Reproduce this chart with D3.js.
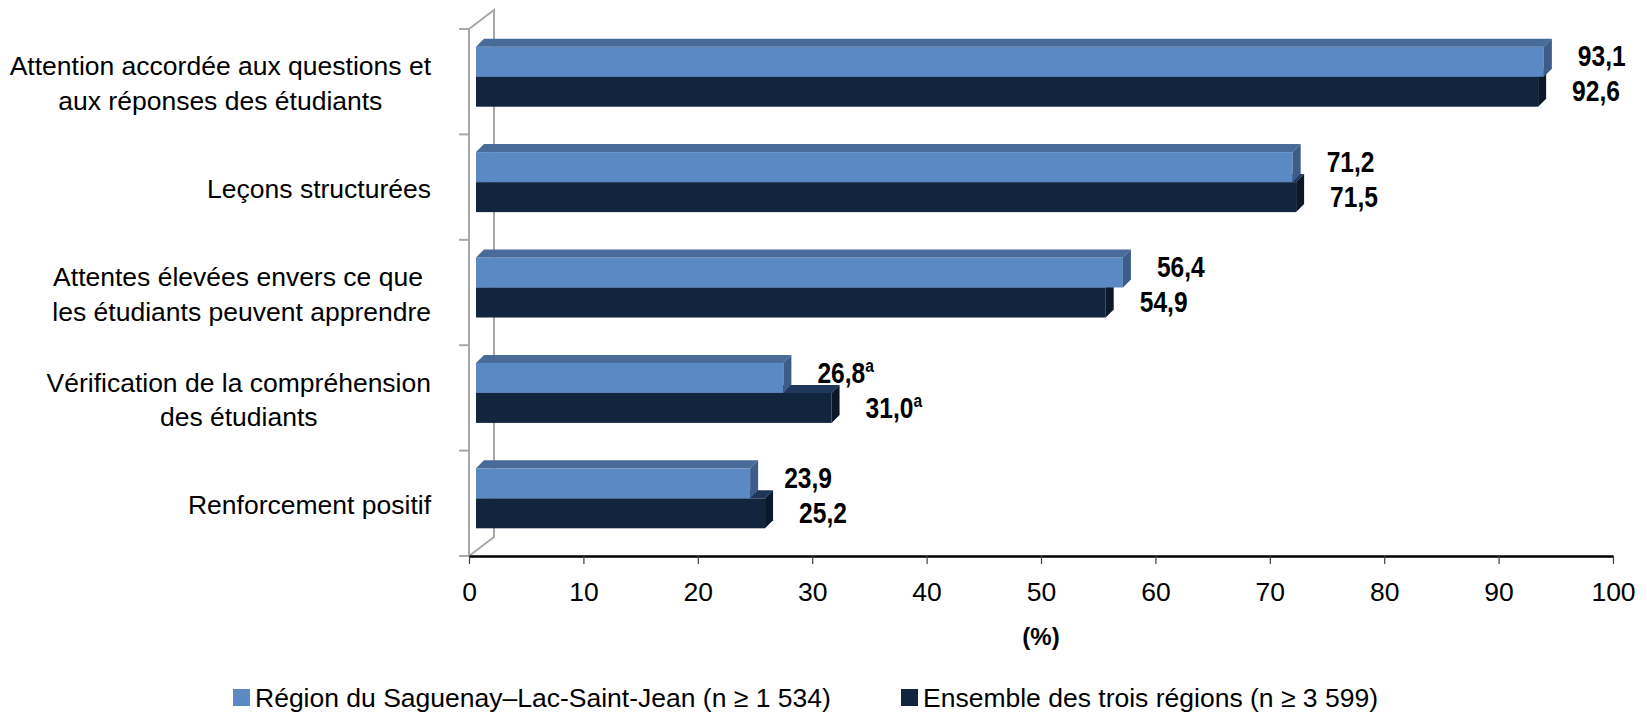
<!DOCTYPE html>
<html>
<head>
<meta charset="utf-8">
<title>Pratiques d'enseignement</title>
<style type="text/css">
    body { margin: 0; background: #fff; }
    svg text { font-family: "Liberation Sans", Arial, sans-serif; fill: #000; }
    .cat { font-size: 26.5px; white-space: pre; }
    .x-axis text { font-size: 26.5px; }
    .x-axis .domain { stroke: #000; stroke-width: 2.5px; }
    .x-axis .tick line { stroke: #404040; stroke-width: 1.2px; }
    .unit { font-size: 24px; font-weight: bold; }
    .val { font-weight: bold; font-size: 30px; }
    .wall { stroke: #a8a8a8; stroke-width: 2px; fill: none; }
    .legend text { font-size: 26.5px; }
</style>
</head>
<body>
<div id="chart"></div>
<script src="https://cdn.jsdelivr.net/npm/d3@7"></script>
<script>

    // categories (one label line per entry)
    var categories = [
        "Attention accordée aux questions et aux réponses des étudiants",
        "Leçons structurées",
        "Attentes élevées envers ce que les étudiants peuvent apprendre",
        "Vérification de la compréhension des étudiants",
        "Renforcement positif"
    ];
    var categoryLines = [
        ["Attention accordée aux questions et", "aux réponses des étudiants"],
        ["Leçons structurées"],
        ["Attentes élevées envers ce que ", "les étudiants peuvent apprendre"],
        ["Vérification de la compréhension", "des étudiants"],
        ["Renforcement positif"]
    ];

    // series values (%)
    var saguenay = [93.1, 71.2, 56.4, 26.8, 23.9];
    var ensemble = [92.6, 71.5, 54.9, 31.0, 25.2];
    var saguenayNotes = ["", "", "", "a", ""];
    var ensembleNotes = ["", "", "", "a", ""];

    var seriesNames = ["Région du Saguenay–Lac-Saint-Jean (n ≥ 1 534)", "Ensemble des trois régions (n ≥ 3 599)"];
    var xTicks = [0, 10, 20, 30, 40, 50, 60, 70, 80, 90, 100];
    var unitLabel = "(%)";

    var width = 1647, height = 712;

    var svg = d3.select("#chart").append("svg")
        .attr("width", width)
        .attr("height", height);

    // axis scale (front plane) and bar scale (bars sit a bit deeper, shifted right)
    var x = d3.scaleLinear().domain([0, 100]).range([469, 1613]);
    var xb = d3.scaleLinear().domain([0, 100]).range([476, 1623]);
    var y = d3.scaleBand().domain(categories).range([29, 556]);

    var wallDx = 25, wallDy = -19;   // depth of the side wall
    var depth = 8;                   // depth of each bar
    var barH = 30;

    //  Side wall
    var y0 = y.range()[0], y1 = y.range()[1], x0 = x(0);
    var wall = svg.append("g").attr("class", "wall");
    wall.append("path")
        .attr("d", "M" + x0 + "," + y1 + "V" + y0 + "L" + (x0 + wallDx) + "," + (y0 + wallDy) +
                   "V" + (y1 + wallDy) + "L" + x0 + "," + y1);
    var bounds = categories.map(function (c) { return y(c); }).concat([y1]);
    wall.selectAll("line.cat-tick")
        .data(bounds)
        .enter().append("line")
        .attr("class", "cat-tick")
        .attr("x1", x0 - 10).attr("x2", x0)
        .attr("y1", function (d) { return d; })
        .attr("y2", function (d) { return d; });

    //  Bars
    function topFace(a, b, t) {
        return "M" + a + "," + t + "L" + (a + depth) + "," + (t - depth) +
               "L" + (b + depth) + "," + (t - depth) + "L" + b + "," + t + "Z";
    }
    function sideFace(b, t) {
        return "M" + b + "," + t + "L" + (b + depth) + "," + (t - depth) +
               "L" + (b + depth) + "," + (t + barH - depth) + "L" + b + "," + (t + barH) + "Z";
    }

    var rows = categories.map(function (c, i) {
        return {
            cat: c,
            bars: [
                { v: ensemble[i], note: ensembleNotes[i], off: 17.7 + barH, front: "#12253f", top: "#1e365a", side: "#0b182a", lab: -1 },
                { v: saguenay[i], note: saguenayNotes[i], off: 17.7, front: "#5b89c4", top: "#486b99", side: "#3d5d88", lab: -6 }
            ]
        };
    });

    var barGroup = svg.append("g").attr("class", "bars");
    var row = barGroup.selectAll("g.row")
        .data(rows)
        .enter().append("g")
        .attr("class", "row");

    var bar = row.selectAll("g.bar")
        .data(function (d) { return d.bars.map(function (b) { return Object.assign({ cat: d.cat }, b); }); })
        .enter().append("g")
        .attr("class", "bar");

    bar.append("rect")
        .attr("x", xb(0))
        .attr("y", function (d) { return y(d.cat) + d.off; })
        .attr("width", function (d) { return xb(d.v) - xb(0); })
        .attr("height", barH)
        .attr("fill", function (d) { return d.front; });
    bar.append("path")
        .attr("d", function (d) { return topFace(xb(0), xb(d.v), y(d.cat) + d.off); })
        .attr("fill", function (d) { return d.top; });
    bar.append("path")
        .attr("d", function (d) { return sideFace(xb(d.v), y(d.cat) + d.off); })
        .attr("fill", function (d) { return d.side; });

    //  Value labels (condensed bold, like Arial Narrow)
    var labels = svg.append("g").attr("class", "values")
        .selectAll("text")
        .data(d3.merge(rows.map(function (r) {
            return r.bars.map(function (b) { return Object.assign({ cat: r.cat }, b); });
        })))
        .enter().append("text")
        .attr("class", "val")
        .attr("transform", function (d) {
            var tx = xb(d.v) + 34,
                ty = y(d.cat) + d.off + barH / 2 + d.lab + 10.7;
            return "translate(" + tx + "," + ty + ") scale(0.82,1)";
        });
    labels.append("tspan")
        .text(function (d) { return d3.format(".1f")(d.v).replace(".", ","); });
    labels.filter(function (d) { return d.note; })
        .append("tspan")
        .attr("font-size", "19px")
        .attr("dy", -11)
        .text(function (d) { return d.note; });

    //  Category labels: centred lines, block right-aligned against the wall
    var catGroup = svg.append("g").attr("class", "categories");
    categories.forEach(function (c, i) {
        var lines = categoryLines[i];
        var mid = y(c) + y.bandwidth() / 2 + 1.5;
        var lh = 34.6;
        var t = catGroup.append("text").attr("class", "cat");
        lines.forEach(function (l, k) {
            t.append("tspan")
                .attr("y", mid + (k - (lines.length - 1) / 2) * lh + 9.5)
                .text(l);
        });
        var maxW = 0;
        t.selectAll("tspan").each(function () { maxW = Math.max(maxW, this.getComputedTextLength()); });
        t.attr("text-anchor", "middle");
        t.selectAll("tspan").attr("x", 431 - maxW / 2);
    });

    //  X axis
    var xAxis = d3.axisBottom(x)
        .tickValues(xTicks)
        .tickSize(8)
        .tickSizeOuter(0)
        .tickPadding(18)
        .tickFormat(function (d) { return d; });

    svg.append("g")
        .attr("class", "x-axis")
        .attr("transform", "translate(0," + y1 + ")")
        .call(xAxis)
        .call(function (g) { g.selectAll("text").attr("fill", "#000").style("font-family", null); });

    svg.append("text")
        .attr("class", "unit")
        .attr("x", (x(0) + x(100)) / 2)
        .attr("y", 645)
        .attr("text-anchor", "middle")
        .text(unitLabel);

    //  Legend
    var legendColors = ["#5b89c4", "#12253f"];
    var legendX = [233, 901];
    var legend = svg.append("g").attr("class", "legend")
        .selectAll("g")
        .data(seriesNames)
        .enter().append("g")
        .attr("transform", function (d, i) { return "translate(" + legendX[i] + ",689)"; });
    legend.append("rect")
        .attr("width", 17).attr("height", 17)
        .attr("fill", function (d, i) { return legendColors[i]; });
    legend.append("text")
        .attr("x", 22)
        .attr("y", 18)
        .text(function (d) { return d; });

</script>
</body>
</html>
